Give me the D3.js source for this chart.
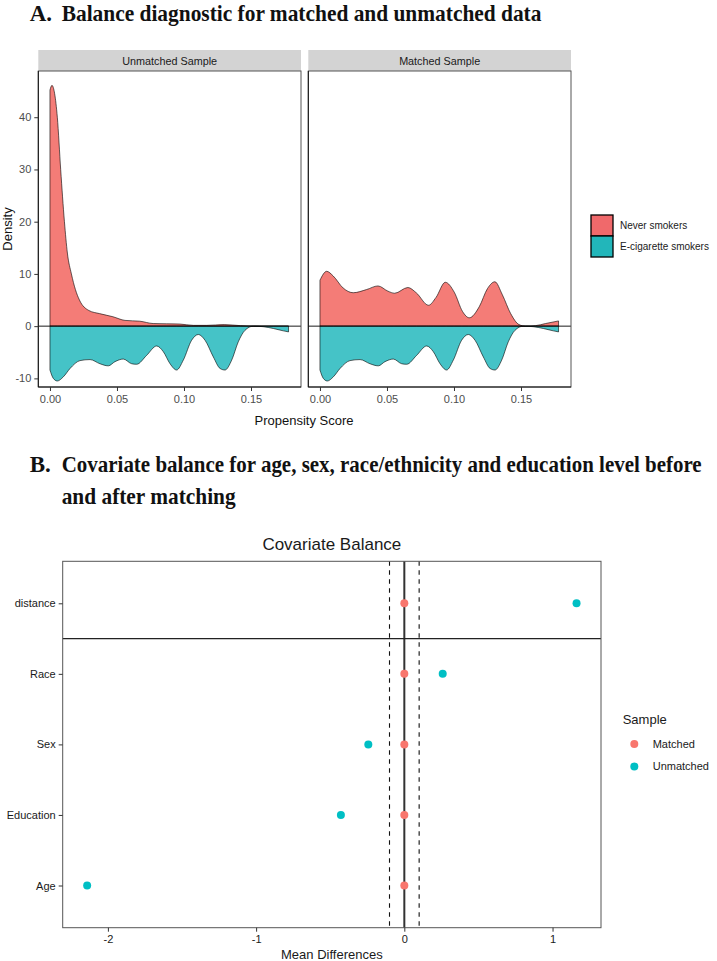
<!DOCTYPE html>
<html><head><meta charset="utf-8">
<script src="https://cdn.jsdelivr.net/npm/d3@7"></script>
<style>body{margin:0;background:#fff} svg{display:block}</style>
</head><body>
<svg id="c" width="717" height="961"></svg>
<script>
// ---------- Panel A data ----------
const facets = ["Unmatched Sample", "Matched Sample"];
const groups = ["Never smokers", "E-cigarette smokers"];
// [propensity score, density]
const neverUnmatched = [[0,45.2],[0.0015,46.1],[0.0035,44.5],[0.0055,40],[0.008,30],[0.0108,20],[0.013,14],[0.016,10],[0.019,7],[0.022,5],[0.029,3],[0.037,2.4],[0.047,1.8],[0.056,1.1],[0.067,0.95],[0.077,0.5],[0.087,0.45],[0.097,0.4],[0.107,0.15],[0.117,0.15],[0.13,0.3],[0.142,0.1],[0.152,0],[0.165,0],[0.178,0]];
const neverMatched = [[0,8.8],[0.005,10.5],[0.0099,9.6],[0.0173,7.3],[0.0248,6.4],[0.0347,7.0],[0.0433,7.7],[0.0507,6.7],[0.0557,6.3],[0.0656,7.4],[0.0718,6.4],[0.081,4.0],[0.0866,5.5],[0.0935,8.4],[0.1002,6.5],[0.1064,2.8],[0.1114,1.6],[0.1188,3.7],[0.125,7.2],[0.1305,8.5],[0.1361,6.0],[0.1423,2.4],[0.1485,0.3],[0.1535,0],[0.1609,0.1],[0.1683,0.5],[0.178,1.0]];
// E-cigarette smokers (identical in both samples), drawn mirrored below zero
const ecigDensity = [[0,-8.4],[0.0025,-10.0],[0.0055,-10.5],[0.010,-9.7],[0.015,-8.1],[0.0224,-6.6],[0.0299,-6.4],[0.0373,-7.2],[0.0435,-7.6],[0.0485,-6.8],[0.0547,-6.3],[0.061,-7.2],[0.0647,-7.3],[0.0721,-5.6],[0.0796,-3.8],[0.0846,-4.9],[0.0896,-7.2],[0.0945,-8.4],[0.0995,-6.5],[0.1057,-2.7],[0.1107,-1.6],[0.1157,-2.7],[0.1219,-5.9],[0.1269,-8.1],[0.1306,-8.4],[0.1356,-6.5],[0.1405,-3.0],[0.1455,-0.8],[0.1517,0],[0.159,-0.1],[0.1667,-0.45],[0.1741,-0.9],[0.178,-1.1]];
const densityTicks = [-10, 0, 10, 20, 30, 40];
const scoreTicks = [0, 0.05, 0.10, 0.15];

// ---------- Panel B data ----------
const covariates = ["Age", "Education", "Sex", "Race", "distance"];
const matchedDiff = [0, 0, 0, 0, 0];
const unmatchedDiff = [-2.14, -0.428, -0.243, 0.259, 1.162];
const sampleNames = ["Matched", "Unmatched"];
const diffTicks = [-2, -1, 0, 1];
const thresholds = [-0.1, 0.1];

// ---------- styles ----------
const SANS = "'Liberation Sans', Arial, sans-serif";
const SERIF = "'Liberation Serif', 'Times New Roman', serif";
const redFill = "#F47C77", tealFill = "#45C3C7";
const redKey = "#F0696B", tealKey = "#22B6BA";
const redPt = "#F8766D", tealPt = "#00BFC4";

const svg = d3.select("#c");

// ---------- Titles (condensed bold serif, scaled horizontally to width) ----------
function boldText(x, y, text, width) {
  const t = svg.append("text").attr("font-family", SERIF).attr("font-weight", "bold")
    .attr("font-size", 23).attr("fill", "#111").text(text);
  const natural = t.node().getComputedTextLength();
  const s = width ? Math.min(1, width / natural) : 1;
  t.attr("transform", `translate(${x},${y}) scale(${s},1)`);
}
boldText(29.7, 20.6, "A.");
boldText(61.7, 20.6, "Balance diagnostic for matched and unmatched data", 480);
boldText(29.7, 472, "B.");
boldText(61.7, 472, "Covariate balance for age, sex, race/ethnicity and education level before", 640);
boldText(61.7, 504, "and after matching", 174);

// ---------- Panel A ----------
const panelsA = [{x0: 38.3, x1: 301}, {x0: 308.3, x1: 571}];
const yA = d3.scaleLinear().domain([-11.65, 48.85]).range([387, 71]);
const stripTop = 50;

facets.forEach((f, i) => {
  const p = panelsA[i];
  const x = d3.scaleLinear().domain([-0.0087, 0.1873]).range([p.x0, p.x1]);
  const g = svg.append("g");
  g.append("rect").attr("x", p.x0).attr("y", stripTop).attr("width", p.x1 - p.x0).attr("height", 71 - stripTop)
    .attr("fill", "#d3d3d3");
  g.append("text").attr("x", (p.x0 + p.x1) / 2).attr("y", 64.5).attr("text-anchor", "middle")
    .attr("font-family", SANS).attr("font-size", 10.8).attr("fill", "#1a1a1a").text(f);

  const area = d3.area().x(d => x(d[0])).y0(yA(0)).y1(d => yA(d[1])).curve(d3.curveMonotoneX);
  g.append("path").datum(i === 0 ? neverUnmatched : neverMatched).attr("d", area)
    .attr("fill", redFill).attr("stroke", "#000").attr("stroke-width", 0.6);
  g.append("path").datum(ecigDensity).attr("d", area)
    .attr("fill", tealFill).attr("stroke", "#000").attr("stroke-width", 0.6);
  g.append("line").attr("x1", p.x0).attr("x2", p.x1).attr("y1", yA(0)).attr("y2", yA(0))
    .attr("stroke", "#000").attr("stroke-width", 0.9);
  g.append("rect").attr("x", p.x0).attr("y", 71).attr("width", p.x1 - p.x0).attr("height", 387 - 71)
    .attr("fill", "none").attr("stroke", "#555").attr("stroke-width", 1);
  g.append("line").attr("x1", p.x0).attr("x2", p.x0).attr("y1", 71).attr("y2", 387).attr("stroke", "#111").attr("stroke-width", 1);
  g.append("line").attr("x1", p.x0).attr("x2", p.x1).attr("y1", 387).attr("y2", 387).attr("stroke", "#111").attr("stroke-width", 1);

  const ax = g.append("g").attr("transform", "translate(0,387)")
    .call(d3.axisBottom(x).tickValues(scoreTicks).tickFormat(d => d.toFixed(2)).tickSize(4).tickPadding(4).tickSizeOuter(0));
  ax.select(".domain").remove();
  ax.selectAll("line").attr("stroke", "#333");
  ax.selectAll("text").attr("font-family", SANS).attr("font-size", 11).attr("fill", "#4d4d4d");

  if (i === 0) {
    const ay = g.append("g").attr("transform", `translate(${p.x0},0)`)
      .call(d3.axisLeft(yA).tickValues(densityTicks).tickFormat(d => String(d)).tickSize(4).tickPadding(3).tickSizeOuter(0));
    ay.select(".domain").remove();
    ay.selectAll("line").attr("stroke", "#333");
    ay.selectAll("text").attr("font-family", SANS).attr("font-size", 11).attr("fill", "#4d4d4d");
  }
});
svg.append("text").attr("transform", "translate(11.7,229) rotate(-90)").attr("text-anchor", "middle")
  .attr("font-family", SANS).attr("font-size", 13).attr("fill", "#111").text("Density");
svg.append("text").attr("x", 304).attr("y", 425).attr("text-anchor", "middle")
  .attr("font-family", SANS).attr("font-size", 13).attr("fill", "#111").text("Propensity Score");

// Legend A
[redKey, tealKey].forEach((c, k) => {
  svg.append("rect").attr("x", 591).attr("y", 215 + k * 21).attr("width", 22).attr("height", 21)
    .attr("fill", c).attr("stroke", "#000").attr("stroke-width", 1.3);
  svg.append("text").attr("x", 620).attr("y", 225.5 + k * 21).attr("dy", "0.35em")
    .attr("font-family", SANS).attr("font-size", 10).attr("fill", "#1a1a1a").text(groups[k]);
});

// ---------- Panel B ----------
const bL = 62.7, bR = 601, bT = 561.3, bB = 927.7;
const xB = d3.scaleLinear().domain([-2.305, 1.327]).range([bL, bR]);
const yB = d3.scalePoint().domain(covariates).range([885.5, 603.3]);
const rowStep = (885.5 - 603.3) / 4;

svg.append("text").attr("x", (bL + bR) / 2).attr("y", 550).attr("text-anchor", "middle")
  .attr("font-family", SANS).attr("font-size", 17).attr("fill", "#1a1a1a").text("Covariate Balance");

thresholds.forEach(t => {
  svg.append("line").attr("x1", xB(t)).attr("x2", xB(t)).attr("y1", bT).attr("y2", bB)
    .attr("stroke", "#111").attr("stroke-width", 1.1).attr("stroke-dasharray", "4.5,4.5");
});
svg.append("line").attr("x1", xB(0)).attr("x2", xB(0)).attr("y1", bT).attr("y2", bB)
  .attr("stroke", "#333").attr("stroke-width", 2);
const sepY = yB("distance") + rowStep / 2;
svg.append("line").attr("x1", bL).attr("x2", bR).attr("y1", sepY).attr("y2", sepY)
  .attr("stroke", "#222").attr("stroke-width", 1.3);

svg.append("rect").attr("x", bL).attr("y", bT).attr("width", bR - bL).attr("height", bB - bT)
  .attr("fill", "none").attr("stroke", "#555").attr("stroke-width", 1);

covariates.forEach((c, k) => {
  svg.append("circle").attr("cx", xB(unmatchedDiff[k])).attr("cy", yB(c)).attr("r", 4).attr("fill", tealPt);
  svg.append("circle").attr("cx", xB(matchedDiff[k])).attr("cy", yB(c)).attr("r", 4).attr("fill", redPt);
});

const bx = svg.append("g").attr("transform", `translate(0,${bB})`)
  .call(d3.axisBottom(xB).tickValues(diffTicks).tickFormat(d => String(d)).tickSize(4).tickPadding(4).tickSizeOuter(0));
bx.select(".domain").remove();
bx.selectAll("line").attr("stroke", "#333");
bx.selectAll("text").attr("font-family", SANS).attr("font-size", 11).attr("fill", "#1a1a1a");

const by = svg.append("g").attr("transform", `translate(${bL},0)`)
  .call(d3.axisLeft(yB).tickSize(4).tickPadding(3).tickSizeOuter(0));
by.select(".domain").remove();
by.selectAll("line").attr("stroke", "#333");
by.selectAll("text").attr("font-family", SANS).attr("font-size", 11).attr("fill", "#1a1a1a");

svg.append("text").attr("x", (bL + bR) / 2).attr("y", 959).attr("text-anchor", "middle")
  .attr("font-family", SANS).attr("font-size", 13).attr("fill", "#1a1a1a").text("Mean Differences");

// Legend B
svg.append("text").attr("x", 622.7).attr("y", 724).attr("font-family", SANS).attr("font-size", 13)
  .attr("fill", "#1a1a1a").text("Sample");
[redPt, tealPt].forEach((c, k) => {
  svg.append("circle").attr("cx", 634.3).attr("cy", 744 + k * 22.5).attr("r", 4).attr("fill", c);
  svg.append("text").attr("x", 652.7).attr("y", 744 + k * 22.5).attr("dy", "0.35em")
    .attr("font-family", SANS).attr("font-size", 11).attr("fill", "#1a1a1a").text(sampleNames[k]);
});
</script>
</body></html>
